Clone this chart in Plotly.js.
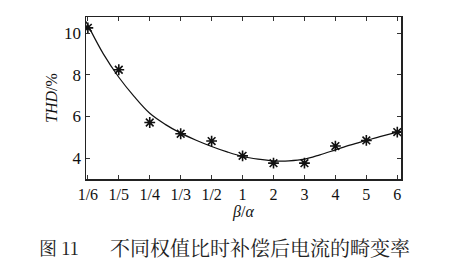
<!DOCTYPE html>
<html>
<head>
<meta charset="utf-8">
<script src="https://cdn.plot.ly/plotly-3.0.1.min.js"></script>
<style>
html,body{margin:0;padding:0;background:#fff;}
#chart{width:474px;height:263px;}
</style>
</head>
<body>
<div id="chart"></div>
<script>
// Category tick labels (beta/alpha)
const tickLabels = ['1/6','1/5','1/4','1/3','1/2','1','2','3','4','5','6'];
const tickPositions = [0,1,2,3,4,5,6,7,8,9,10];
// Measured THD (%) at each ratio
const measuredTHD = [10.25, 8.24, 5.71, 5.17, 4.82, 4.11, 3.76, 3.76, 4.58, 4.85, 5.25];
// Fitted curve (category index, THD %)
const fitX = [-0.06, 0, 0.5, 1, 1.5, 2, 2.5, 3, 3.5, 4, 4.5, 5, 5.5, 6, 6.5, 7, 7.5, 8, 8.5, 9, 9.5, 10, 10.12];
const fitY = [10.55, 10.38, 9.0, 7.88, 6.95, 6.15, 5.62, 5.2, 4.86, 4.56, 4.3, 4.08, 3.95, 3.87, 3.87, 3.95, 4.16, 4.4, 4.64, 4.85, 5.06, 5.25, 5.29];
const yTicks = [4, 6, 8, 10];

const serif = 'Liberation Serif, Times New Roman, serif';

const traces = [
  {
    x: fitX, y: fitY, type: 'scatter', mode: 'lines',
    line: {color: '#111', width: 1.2, shape: 'spline'},
    hoverinfo: 'skip', showlegend: false
  },
  {
    x: tickPositions, y: measuredTHD, type: 'scatter', mode: 'markers',
    marker: {symbol: 'asterisk-open', size: 9, color: '#111', line: {color: '#111', width: 1.6}},
    showlegend: false
  }
];

const layout = {
  width: 474, height: 263,
  margin: {l: 86, r: 73, t: 17, b: 84},
  paper_bgcolor: '#fff', plot_bgcolor: '#fff',
  showlegend: false,
  xaxis: {
    range: [-0.06, 10.12],
    tickvals: tickPositions, ticktext: tickLabels,
    ticks: 'inside', ticklen: 4, tickcolor: '#333', tickwidth: 1,
    showline: true, linecolor: '#222', linewidth: 1.5, mirror: 'ticks',
    showgrid: false, zeroline: false,
    tickfont: {family: serif, size: 16, color: '#111'},
    title: {text: '<i>β</i>/<i>α</i>', font: {family: serif, size: 16, color: '#111'}, standoff: 0}
  },
  yaxis: {
    range: [3.0, 10.77],
    tickvals: yTicks,
    ticks: 'inside', ticklen: 4, tickcolor: '#333', tickwidth: 1,
    showline: true, linecolor: '#222', linewidth: 1.5, mirror: 'ticks',
    showgrid: false, zeroline: false,
    tickfont: {family: serif, size: 17, color: '#111'},
    title: {text: '<i>THD</i>/%', font: {family: serif, size: 16, color: '#111'}, standoff: 2}
  },
  annotations: [
    {
      xref: 'paper', yref: 'paper', x: (59 - 86) / 315, y: -68 / 162,
      xanchor: 'center', yanchor: 'middle', showarrow: false,
      text: '图 11', font: {family: 'Noto Serif CJK SC, Noto Sans CJK SC, serif', size: 18, color: '#222'}
    },
    {
      xref: 'paper', yref: 'paper', x: (260 - 86) / 315, y: -68 / 162,
      xanchor: 'center', yanchor: 'middle', showarrow: false,
      text: '不同权值比时补偿后电流的畸变率', font: {family: 'Noto Serif CJK SC, Noto Sans CJK SC, serif', size: 20, color: '#222'}
    }
  ]
};

Plotly.newPlot('chart', traces, layout, {displayModeBar: false, staticPlot: true});
</script>
</body>
</html>
